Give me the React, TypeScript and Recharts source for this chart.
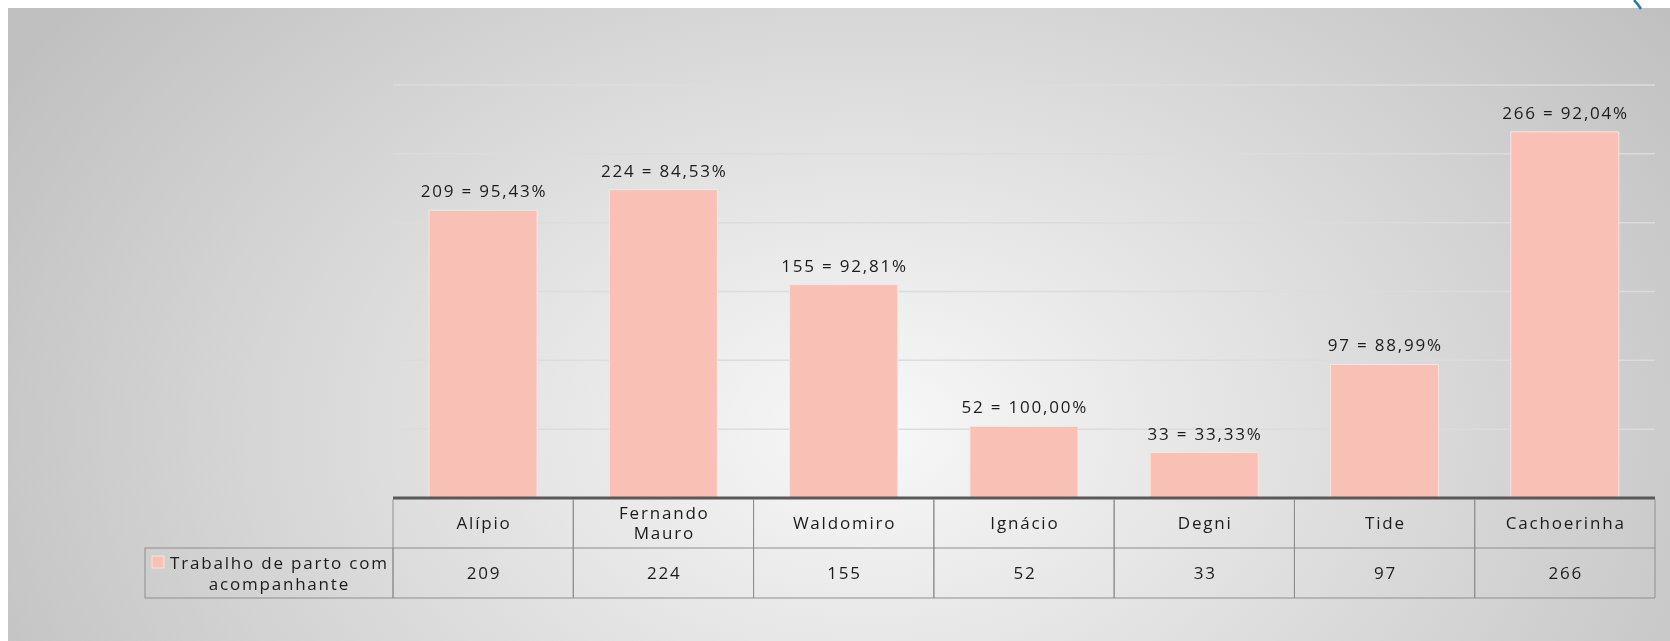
import React from "react";
import { BarChart, Bar, XAxis, YAxis, CartesianGrid, LabelList } from "recharts";

const categories = ["Alípio", "Fernando Mauro", "Waldomiro", "Ignácio", "Degni", "Tide", "Cachoerinha"];
const seriesName = "Trabalho de parto com acompanhante";
const values = [209, 224, 155, 52, 33, 97, 266];
const percents = ["95,43%", "84,53%", "92,81%", "100,00%", "33,33%", "88,99%", "92,04%"];
const yTicks = [0, 50, 100, 150, 200, 250, 300];

const data = categories.map((name, i) => ({
  name,
  value: values[i],
  label: `${values[i]} = ${percents[i]}`,
}));

const W = 1662;
const H = 633;
const MARGIN = { top: 77, right: 15, bottom: 0, left: 385 };
const PLOT_W = W - MARGIN.left - MARGIN.right;
const COL_W = PLOT_W / categories.length;
const ROW1 = 50;
const ROW2 = 50;
const LEGEND_LEFT = 137;

const FONT = "'Open Sans', sans-serif";
const TEXT = "#1c1c1c";
const LINE = "#8e8e8e";
const BAR = "#F9C1B5";
const SP = 1.8;
const FS = 17;
const CAPC = 6.1;

function wrap(s: string, max: number): string[] {
  const words = s.split(" ");
  const lines: string[] = [];
  let cur = "";
  for (const w of words) {
    if (cur && (cur + " " + w).length > max) {
      lines.push(cur);
      cur = w;
    } else {
      cur = cur ? cur + " " + w : w;
    }
  }
  if (cur) lines.push(cur);
  return lines;
}

const textStyle = {
  fontFamily: FONT,
  fontSize: FS,
  fill: TEXT,
  letterSpacing: `${SP}px`,
} as React.CSSProperties;

const TableTick = (props: any) => {
  const { x, y, payload, index } = props;
  const left = x - COL_W / 2;
  const right = x + COL_W / 2;
  const lines = wrap(String(payload.value), 12);
  const v = data[index] ? data[index].value : "";
  const legendLines = wrap(seriesName, 21);
  const legendCx = (LEGEND_LEFT + 19 + left) / 2;
  return (
    <g>
      <line x1={left} y1={y + 1.5} x2={left} y2={y + ROW1 + ROW2} stroke={LINE} strokeWidth={1} />
      <line x1={right} y1={y + 1.5} x2={right} y2={y + ROW1 + ROW2} stroke={LINE} strokeWidth={1} />
      <line x1={left} y1={y + ROW1} x2={right} y2={y + ROW1} stroke={LINE} strokeWidth={1} />
      <line x1={left} y1={y + ROW1 + ROW2} x2={right} y2={y + ROW1 + ROW2} stroke={LINE} strokeWidth={1} />
      {lines.map((ln, k) => (
        <text
          key={k}
          x={x + SP / 2}
          y={y + ROW1 / 2 + CAPC + (k - (lines.length - 1) / 2) * 20}
          textAnchor="middle"
          style={textStyle}
        >
          {ln}
        </text>
      ))}
      <text x={x + SP / 2} y={y + ROW1 + ROW2 / 2 + CAPC} textAnchor="middle" style={textStyle}>
        {v}
      </text>
      {index === 0 && (
        <g>
          <rect
            x={LEGEND_LEFT}
            y={y + ROW1}
            width={left - LEGEND_LEFT}
            height={ROW2}
            fill="none"
            stroke={LINE}
            strokeWidth={1}
          />
          <rect x={LEGEND_LEFT + 7} y={y + ROW1 + 8} width={12} height={12} fill={BAR} stroke="#fde3dc" strokeWidth={1} />
          {legendLines.map((ln, k) => (
            <text
              key={k}
              x={legendCx + SP / 2}
              y={y + ROW1 + 20.5 + k * 21.7}
              textAnchor="middle"
              style={textStyle}
            >
              {ln}
            </text>
          ))}
        </g>
      )}
    </g>
  );
};

const renderLabel = (props: any) => {
  const vb = props.viewBox || {};
  const x = props.x ?? vb.x;
  const y = props.y ?? vb.y;
  const width = props.width ?? vb.width;
  return (
    <text x={x + width / 2 + SP / 2} y={y - 13} textAnchor="middle" style={textStyle}>
      {props.value}
    </text>
  );
};

export default function App() {
  return (
    <>
      <div
        style={{
          position: "fixed",
          left: 8,
          top: 8,
          width: W,
          height: H,
          overflow: "hidden",
          background:
            "radial-gradient(ellipse 1000px 700px at 862px 420px, #f8f8f8 0%, #e2e2e2 40%, #c0c0c0 100%)",
        }}
      >
        <BarChart width={W} height={H} data={data} margin={MARGIN} barCategoryGap="20%">
          <CartesianGrid vertical={false} stroke="#dcdcdc" strokeWidth={1.5} />
          <YAxis hide domain={[0, 300]} ticks={yTicks} />
          <XAxis
            dataKey="name"
            height={H - MARGIN.top - 413}
            interval={0}
            tickLine={false}
            tickSize={0}
            tickMargin={0}
            axisLine={{ stroke: "#595959", strokeWidth: 3 }}
            tick={TableTick}
          />
          <Bar dataKey="value" name={seriesName} fill={BAR} stroke="#fde3dc" strokeWidth={1} isAnimationActive={false}>
            <LabelList dataKey="label" position="top" content={renderLabel} />
          </Bar>
        </BarChart>
      </div>
      <svg
        width={1670}
        height={20}
        style={{ position: "fixed", left: 0, top: 0, pointerEvents: "none" }}
      >
        <path d="M1634 0 Q1638 4 1641 9" stroke="#2e7c99" strokeWidth={2.5} fill="none" />
      </svg>
    </>
  );
}
